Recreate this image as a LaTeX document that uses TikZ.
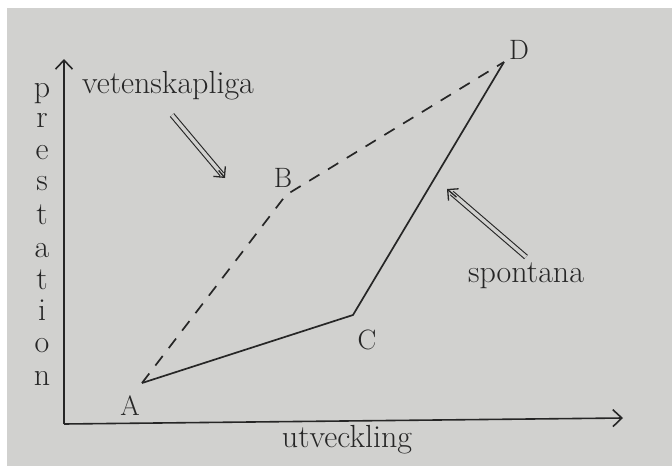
\documentclass[tikz,border=0pt]{standalone}
\usetikzlibrary{arrows.meta,calc}
\definecolor{bg}{RGB}{209,209,207}
\definecolor{ink}{RGB}{38,38,38}
\begin{document}
\begin{tikzpicture}[x=1pt,y=-1pt,
  lbl/.style={text=ink,font=\fontsize{32}{38}\selectfont,inner sep=0pt,anchor=base},
  ptlbl/.style={text=ink,font=\fontsize{28}{33}\selectfont,inner sep=0pt},
  axis/.style={draw=ink,line width=1.6pt,-{Straight Barb[length=9pt,width=17pt,line width=1.6pt]}},
  solidline/.style={draw=ink,line width=1.7pt,line join=round},
  dashline/.style={draw=ink,line width=1.7pt,dash pattern=on 12pt off 10pt},
  hintshaft/.style={draw=ink,line width=1.1pt,double=bg,double distance=3.4pt},
  hinthead/.style={draw=ink,line width=1.3pt,-{Straight Barb[angle=90:11pt,line width=1.3pt]}}]
\useasboundingbox (0,0) rectangle (672,466);
\fill[white] (0,0) rectangle (672,466);
\fill[bg] (7,8) rectangle (672,466);
% axes
\coordinate (O) at (64,424);
\coordinate (Ytip) at (64,59);
\coordinate (Xtip) at (623,418);
\draw[axis] (O) -- (Ytip);
\draw[axis] (O) -- (Xtip);
% points
\coordinate (A) at (142,383);
\coordinate (B) at (286,195);
\coordinate (C) at (353,315);
\coordinate (D) at (504,62);
\draw[solidline] (A) -- (C) -- (D);
\draw[dashline] (A) -- (B) -- (D);
% point labels
\node[ptlbl] (lA) at (130,406) {A};
\node[ptlbl] (lB) at (283,178) {B};
\node[ptlbl] (lC) at (367,340) {C};
\node[ptlbl] (lD) at (519,50) {D};
% axis labels
\node[lbl] (xl) at (347,447) {utveckling};
\node[lbl] (y1) at (42,97) {p};
\node[lbl] (y2) at (42,127) {r};
\node[lbl] (y3) at (42,159) {e};
\node[lbl] (y4) at (42,190) {s};
\node[lbl] (y5) at (42,224) {t};
\node[lbl] (y6) at (42,257) {a};
\node[lbl] (y7) at (42,289) {t};
\node[lbl] (y8) at (42,320) {i};
\node[lbl] (y9) at (42,352) {o};
\node[lbl] (y10) at (42,385) {n};
% annotations
\node[lbl] (vet) at (168,93) {vetenskapliga};
\node[lbl] (spo) at (526,282) {spontana};
\coordinate (v1) at (172,115);
\coordinate (v2) at (225,178);
\coordinate (s1) at (526,257);
\coordinate (s2) at (447,189);
\draw[hintshaft] (v1) -- ($(v1)!0.94!(v2)$);
\draw[hinthead] ($(v1)!0.88!(v2)$) -- (v2);
\draw[hintshaft] (s1) -- ($(s1)!0.94!(s2)$);
\draw[hinthead] ($(s1)!0.88!(s2)$) -- (s2);
\end{tikzpicture}
\end{document}
